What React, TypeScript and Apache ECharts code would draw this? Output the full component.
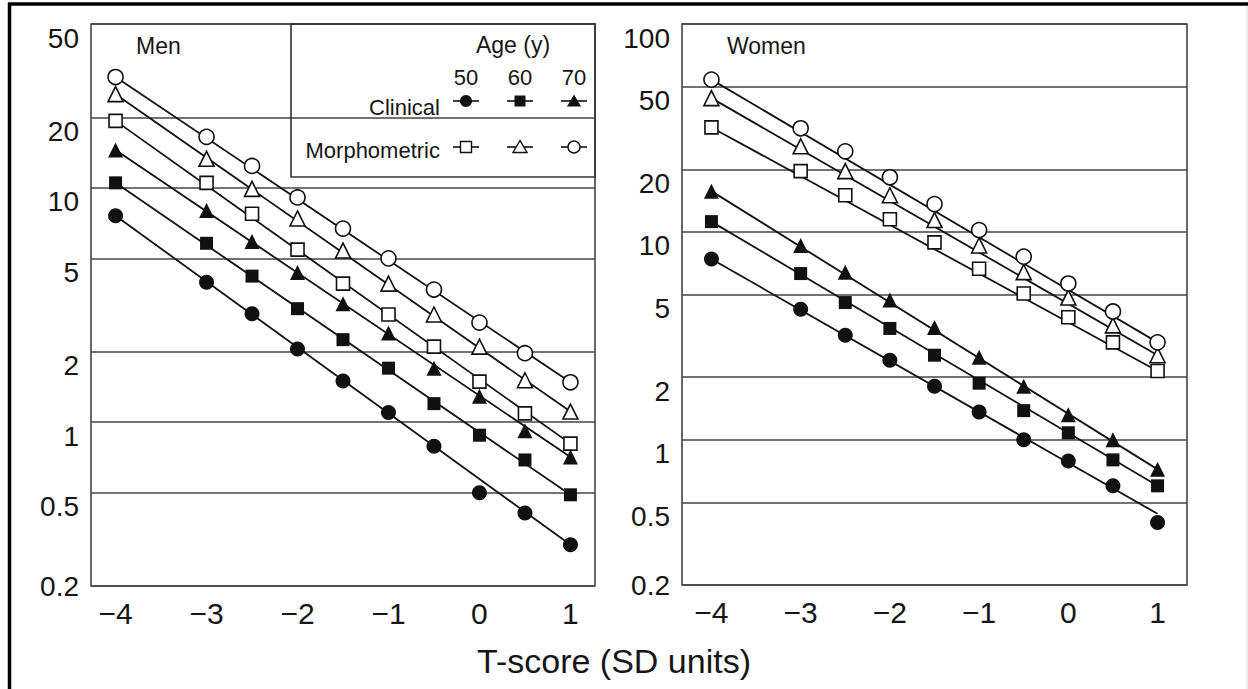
import React, { useEffect, useRef } from "react";
import * as echarts from "echarts";

// T-score positions (SD units)
const tScores = [-4, -3, -2.5, -2, -1.5, -1, -0.5, 0, 0.5, 1];
const xTickValues = [-4, -3, -2, -1, 0, 1];
const menYTicks = [0.2, 0.5, 1, 2, 5, 10, 20, 50];
const womenYTicks = [0.2, 0.5, 1, 2, 5, 10, 20, 50, 100];

// Men
const menClinical50 = [7.6, 3.95, 2.9, 2.05, 1.5, 1.1, 0.79, 0.5, 0.41, 0.3];
const menClinical60 = [10.5, 5.8, 4.2, 3.05, 2.25, 1.7, 1.2, 0.88, 0.69, 0.49];
const menClinical70 = [14.5, 8.0, 5.9, 4.35, 3.2, 2.4, 1.7, 1.29, 0.92, 0.71];
const menMorph50 = [19.3, 10.5, 7.75, 5.45, 3.9, 2.88, 2.1, 1.49, 1.09, 0.81];
const menMorph60 = [25.1, 13.3, 9.9, 7.4, 5.4, 3.9, 2.88, 2.1, 1.51, 1.11];
const menMorph70 = [29.7, 16.5, 12.4, 9.1, 6.7, 5.0, 3.68, 2.66, 1.97, 1.48];
// fitted lines (value at T = -4 and at T = 1), same order as the series
const menLineStart = [7.6, 10.5, 14.5, 19.3, 25.1, 29.7];
const menLineEnd = [0.3, 0.49, 0.71, 0.81, 1.11, 1.48];

// Women
const womenClinical50 = [7.4, 4.24, 3.18, 2.41, 1.81, 1.36, 1.0, 0.79, 0.6, 0.4];
const womenClinical60 = [11.2, 6.3, 4.57, 3.43, 2.55, 1.87, 1.38, 1.08, 0.8, 0.6];
const womenClinical70 = [15.7, 8.6, 6.4, 4.7, 3.47, 2.49, 1.81, 1.32, 1.0, 0.72];
const womenMorph50 = [31.8, 19.6, 15.0, 11.5, 8.9, 6.65, 5.05, 3.88, 2.94, 2.14];
const womenMorph60 = [44, 25.8, 19.6, 15.0, 11.4, 8.6, 6.4, 4.83, 3.55, 2.55];
const womenMorph70 = [54, 31.5, 24.4, 18.3, 13.6, 10.2, 7.6, 5.64, 4.14, 2.94];
const womenLineStart = [7.4, 11.2, 15.7, 31.8, 44, 54];
const womenLineEnd = [0.44, 0.6, 0.72, 2.14, 2.55, 2.94];

const ageLabels = ["50", "60", "70"];
const legendRows = ["Clinical", "Morphometric"];

const FONT = '"Liberation Sans", Arial, Helvetica, sans-serif';
const INK = "#151515";

type Spec = { data: number[]; symbol: string; filled: boolean; size: number };

const menSpecs: Spec[] = [
  { data: menClinical50, symbol: "circle", filled: true, size: 15 },
  { data: menClinical60, symbol: "rect", filled: true, size: 13 },
  { data: menClinical70, symbol: "triangle", filled: true, size: 15 },
  { data: menMorph50, symbol: "rect", filled: false, size: 13 },
  { data: menMorph60, symbol: "triangle", filled: false, size: 15 },
  { data: menMorph70, symbol: "circle", filled: false, size: 15 },
];
const womenSpecs: Spec[] = [
  { data: womenClinical50, symbol: "circle", filled: true, size: 15 },
  { data: womenClinical60, symbol: "rect", filled: true, size: 13 },
  { data: womenClinical70, symbol: "triangle", filled: true, size: 15 },
  { data: womenMorph50, symbol: "rect", filled: false, size: 13 },
  { data: womenMorph60, symbol: "triangle", filled: false, size: 15 },
  { data: womenMorph70, symbol: "circle", filled: false, size: 15 },
];

function yLabelFormatter(v: number) {
  const s = String(v);
  return v === 0.2 ? `{z|${s}}` : `{a|${s}}`;
}

function makeYAxis(gridIndex: number, max: number, ticks: number[]) {
  return {
    type: "log",
    logBase: 10,
    gridIndex,
    min: 0.2,
    max,
    axisLine: { show: false },
    axisTick: { show: false, customValues: ticks },
    splitLine: { show: true, lineStyle: { color: "#444", width: 1.6 } },
    axisLabel: {
      customValues: ticks,
      margin: 12,
      fontSize: 28,
      fontFamily: FONT,
      formatter: yLabelFormatter,
      color: INK,
      rich: {
        a: { fontSize: 28, fontFamily: FONT, color: INK, padding: [28, 0, 0, 0] },
        z: { fontSize: 28, fontFamily: FONT, color: INK },
      },
    },
  };
}

function makeXAxis(gridIndex: number, min: number, max: number) {
  return {
    type: "value",
    gridIndex,
    min,
    max,
    axisLine: { show: false },
    axisTick: { show: false, customValues: xTickValues },
    splitLine: { show: false },
    axisLabel: {
      customValues: xTickValues,
      margin: 12,
      fontSize: 30,
      fontFamily: FONT,
      color: INK,
      formatter: (v: number) => (v < 0 ? "\u2212" + Math.abs(v) : String(v)),
    },
  };
}

// Each series: its fitted straight line, plus the markers as a scatter.
function makeSeries(specs: Spec[], starts: number[], ends: number[], axisIndex: number) {
  const out: any[] = [];
  const last = tScores.length - 1;
  specs.forEach((s, i) => {
    out.push({
      type: "line",
      name: `fit${axisIndex}-${i}`,
      xAxisIndex: axisIndex,
      yAxisIndex: axisIndex,
      data: [
        [tScores[0], starts[i]],
        [tScores[last], ends[i]],
      ],
      symbol: "none",
      lineStyle: { color: "#111", width: 1.8 },
      z: 2,
      silent: true,
    });
    out.push({
      type: "scatter",
      name: `pts${axisIndex}-${i}`,
      xAxisIndex: axisIndex,
      yAxisIndex: axisIndex,
      data: tScores.map((t, k) => [t, s.data[k]]),
      symbol: s.symbol,
      symbolSize: s.size,
      itemStyle: {
        color: s.filled ? "#111" : "#ffffff",
        borderColor: "#111",
        borderWidth: s.filled ? 0 : 1.6,
        opacity: 1,
      },
      z: 3,
    });
  });
  return out;
}

function legendGraphics() {
  const els: any[] = [];
  const colX = [466, 520, 574];
  const rowY = [101, 147];
  els.push({
    type: "rect",
    shape: { x: 291, y: 24, width: 304, height: 153 },
    style: { fill: "none", stroke: "#333", lineWidth: 1.6 },
    z: 10,
  });
  els.push({
    type: "text",
    x: 513,
    y: 45,
    style: { text: "Age (y)", font: `23px ${FONT}`, fill: INK, align: "center", verticalAlign: "middle" },
    z: 10,
  });
  ageLabels.forEach((a, i) => {
    els.push({
      type: "text",
      x: colX[i],
      y: 77,
      style: { text: a, font: `22px ${FONT}`, fill: INK, align: "center", verticalAlign: "middle" },
      z: 10,
    });
  });
  legendRows.forEach((r, j) => {
    els.push({
      type: "text",
      x: 440,
      y: rowY[j] + (j === 0 ? 6 : 3),
      style: { text: r, font: `22px ${FONT}`, fill: INK, align: "right", verticalAlign: "middle" },
      z: 10,
    });
  });
  menSpecs.forEach((s, idx) => {
    const row = s.filled ? 0 : 1;
    const col = s.filled ? idx : idx - 3;
    const cx = colX[col];
    const cy = rowY[row];
    els.push({
      type: "line",
      shape: { x1: cx - 13, y1: cy, x2: cx + 13, y2: cy },
      style: { stroke: "#111", lineWidth: 1.6 },
      z: 10,
    });
    const fill = s.filled ? "#111" : "#fff";
    const stroke = "#111";
    const lw = s.filled ? 0 : 1.4;
    if (s.symbol === "circle") {
      els.push({ type: "circle", shape: { cx, cy, r: 6 }, style: { fill, stroke, lineWidth: lw }, z: 11 });
    } else if (s.symbol === "rect") {
      els.push({ type: "rect", shape: { x: cx - 5.5, y: cy - 5.5, width: 11, height: 11 }, style: { fill, stroke, lineWidth: lw }, z: 11 });
    } else {
      els.push({
        type: "polygon",
        shape: { points: [[cx, cy - 6.5], [cx - 7, cy + 5.5], [cx + 7, cy + 5.5]] },
        style: { fill, stroke, lineWidth: lw },
        z: 11,
      });
    }
  });
  return els;
}

export default function App() {
  const ref = useRef<HTMLDivElement>(null);
  useEffect(() => {
    if (!ref.current) return;
    const chart = echarts.init(ref.current, undefined, { renderer: "svg" });
    const option: any = {
      animation: false,
      backgroundColor: "#ffffff",
      grid: [
        { left: 91, right: 653, top: 24, bottom: 103, show: true, borderColor: "#444", borderWidth: 1.6, backgroundColor: "transparent" },
        { left: 682, right: 61, top: 24, bottom: 104, show: true, borderColor: "#444", borderWidth: 1.6, backgroundColor: "transparent" },
      ],
      xAxis: [makeXAxis(0, -4.27, 1.27), makeXAxis(1, -4.33, 1.33)],
      yAxis: [makeYAxis(0, 50, menYTicks), makeYAxis(1, 100, womenYTicks)],
      series: [
        ...makeSeries(menSpecs, menLineStart, menLineEnd, 0),
        ...makeSeries(womenSpecs, womenLineStart, womenLineEnd, 1),
      ],
      graphic: [
        { type: "line", shape: { x1: 8, y1: 4, x2: 1248, y2: 4 }, style: { stroke: "#000", lineWidth: 3.5 } },
        { type: "line", shape: { x1: 9.5, y1: 3, x2: 9.5, y2: 689 }, style: { stroke: "#000", lineWidth: 3.5 } },
        { type: "line", shape: { x1: 1247, y1: 6, x2: 1247, y2: 689 }, style: { stroke: "#ddd", lineWidth: 1 } },
        {
          type: "text",
          x: 136,
          y: 46,
          style: { text: "Men", font: `23px ${FONT}`, fill: INK, align: "left", verticalAlign: "middle" },
        },
        {
          type: "text",
          x: 727,
          y: 46,
          style: { text: "Women", font: `23px ${FONT}`, fill: INK, align: "left", verticalAlign: "middle" },
        },
        {
          type: "text",
          x: 614,
          y: 661,
          style: { text: "T-score (SD units)", font: `34px ${FONT}`, fill: INK, align: "center", verticalAlign: "middle" },
        },
        ...legendGraphics(),
      ],
    };
    chart.setOption(option);
    return () => chart.dispose();
  }, []);
  return (
    <div
      ref={ref}
      style={{ position: "absolute", left: 0, top: 0, width: 1248, height: 689 }}
    />
  );
}
